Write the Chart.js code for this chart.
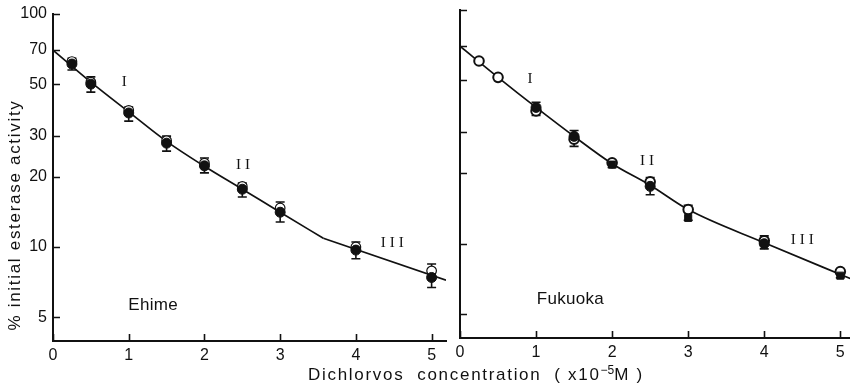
<!DOCTYPE html>
<html>
<head>
<meta charset="utf-8">
<script src="https://cdn.jsdelivr.net/npm/chart.js@4.4.1/dist/chart.umd.min.js"></script>
<style>
  body { margin: 0; background: #fff; }
  #page { position: relative; width: 850px; height: 384px; overflow: hidden; font-family: "Liberation Sans", Arial, sans-serif; color: #111; }
  #boxL { position: absolute; left: 0; top: 0; width: 452px; height: 384px; }
  #boxR { position: absolute; left: 452px; top: 0; width: 405px; height: 384px; }
  .ytitle { position: absolute; left: -135px; top: 205px; width: 300px; height: 20px; line-height: 20px;
            text-align: center; transform: rotate(-90deg); font-size: 17px; letter-spacing: 1.7px; white-space: nowrap; }
  .xtitle { position: absolute; left: 276px; top: 364px; width: 400px; height: 22px; line-height: 22px;
            text-align: center; font-size: 17px; letter-spacing: 1.7px; white-space: nowrap; }
  .xtitle sup { font-size: 12px; letter-spacing: 0; vertical-align: 6px; line-height: 0; }
</style>
</head>
<body>
<div id="page">
  <div id="boxL"><canvas id="chartL"></canvas></div>
  <div id="boxR"><canvas id="chartR"></canvas></div>
  <div class="ytitle">% initial esterase activity</div>
  <div class="xtitle">Dichlorvos&nbsp; concentration&nbsp; ( x10<sup>−5</sup>M )</div>
</div>
<script>
const concX = [0.25, 0.5, 1, 1.5, 2, 2.5, 3, 4, 5];
const yTicks = [5, 10, 20, 30, 50, 70, 100];
const xTicks = [0, 1, 2, 3, 4, 5];

// Ehime
const ehimeFilled = [61, 50, 37.6, 27.9, 22.3, 17.7, 14.1, 9.7, 7.4];
const ehimeOpen   = [62.5, 51, 38.6, 28.6, 22.9, 18.2, 14.7, 10.0, 7.9];
const ehimeHigh   = [64.5, 53.7, 39.9, 29.9, 24.1, 18.8, 15.6, 10.5, 8.45];
const ehimeLow    = [57.5, 46.2, 34.7, 25.8, 20.8, 16.4, 12.8, 8.9, 6.7];
const ehimeFitX   = [0, 0.5, 1, 1.5, 2, 2.5, 3, 3.57];
const ehimeFitY   = [70, 51, 38, 28.4, 22.2, 17.7, 14.1, 10.9];
const ehimeTailX  = [3.57, 5.19];
const ehimeTailY  = [10.9, 7.2];

// Fukuoka
const fukuokaOpen   = [60.5, 51.5, 37.0, 28.0, 22.2, 18.4, 14.0, 10.3, 7.6];
const fukuokaFilled = [null, null, 38.3, 28.8, 21.8, 17.6, 12.9, 10.0, 7.3];
const fukuokaHigh   = [null, null, 40.3, 30.5, 22.7, 19.2, 14.6, 10.8, 7.75];
const fukuokaLow    = [null, null, 35.4, 26.1, 21.2, 16.2, 12.6, 9.5, 7.15];
const fukuokaFitX   = [0, 0.5, 1, 1.5, 2, 2.5, 3, 4, 5.13];
const fukuokaFitY   = [70, 51.5, 38.3, 28.8, 22, 17.8, 14, 10.1, 7.1];
const fukuokaShapes = ["circle", "circle", "circle", "circle", "rect", "circle", "rect", "circle", "rect"];

const INK = "#111";

function pontos(xs, ys) {
  return xs.map((x, i) => ({ x, y: ys[i] })).filter(p => p.y != null);
}

// error bars, inward ticks and the roman numerals / site name
function paperPlugin(cfg) {
  return {
    id: "paper",
    beforeDatasetsDraw(chart) {
      const { ctx, scales: { x, y } } = chart;
      ctx.save();
      ctx.strokeStyle = INK;
      ctx.lineWidth = 1.6;
      ctx.beginPath();
      cfg.high.forEach((hi, i) => {
        const lo = cfg.low[i];
        if (hi == null || lo == null) return;
        const px = x.getPixelForValue(concX[i]);
        const top = y.getPixelForValue(hi);
        const bot = y.getPixelForValue(lo);
        ctx.moveTo(px, top); ctx.lineTo(px, bot);
        ctx.moveTo(px - 4.5, top); ctx.lineTo(px + 4.5, top);
        ctx.moveTo(px - 4.5, bot); ctx.lineTo(px + 4.5, bot);
      });
      ctx.stroke();
      ctx.restore();
    },
    afterDraw(chart) {
      const { ctx, chartArea: a, scales: { x, y } } = chart;
      ctx.save();
      ctx.strokeStyle = INK;
      ctx.lineWidth = 1.6;
      ctx.beginPath();
      yTicks.forEach(v => {
        const py = Math.round(y.getPixelForValue(v)) + 0.5;
        ctx.moveTo(a.left, py); ctx.lineTo(a.left + 7, py);
      });
      xTicks.forEach(v => {
        const px = Math.round(x.getPixelForValue(v)) + 0.5;
        ctx.moveTo(px, a.bottom); ctx.lineTo(px, a.bottom - 7);
      });
      ctx.stroke();

      ctx.fillStyle = INK;
      ctx.textBaseline = "middle";
      cfg.notes.forEach(n => {
        ctx.font = n.font;
        const chars = n.text.split("");
        const w = chars.reduce((s, c) => s + ctx.measureText(c).width, 0) + n.gap * (chars.length - 1);
        let px = x.getPixelForValue(n.x) - w / 2;
        const py = y.getPixelForValue(n.y);
        chars.forEach(c => {
          ctx.fillText(c, px, py);
          px += ctx.measureText(c).width + n.gap;
        });
      });
      ctx.restore();
    }
  };
}

function desenhar(canvasId, cfg) {
  const datasets = cfg.fits.map(f => ({
    data: pontos(f.x, f.y),
    showLine: true,
    borderColor: INK,
    borderWidth: 1.7,
    pointRadius: 0,
    fill: false,
    cubicInterpolationMode: f.smooth ? "monotone" : "default",
    order: 3
  }));
  datasets.push({
    data: pontos(concX, cfg.open),
    showLine: false,
    pointStyle: "circle",
    pointRadius: 4.8,
    pointBackgroundColor: "#fff",
    pointBorderColor: INK,
    pointBorderWidth: cfg.openBorder,
    order: 2
  });
  datasets.push({
    data: pontos(concX, cfg.filled),
    showLine: false,
    pointStyle: cfg.shapes ? cfg.shapes.filter((s, i) => cfg.filled[i] != null) : "circle",
    pointRadius: 5,
    pointBackgroundColor: INK,
    pointBorderColor: INK,
    pointBorderWidth: 1,
    order: 1
  });

  return new Chart(document.getElementById(canvasId), {
    type: "scatter",
    data: { datasets },
    plugins: [paperPlugin(cfg)],
    options: {
      responsive: true,
      maintainAspectRatio: false,
      animation: false,
      layout: { padding: cfg.padding },
      plugins: { legend: { display: false }, tooltip: { enabled: false } },
      scales: {
        x: {
          type: "linear",
          min: 0,
          max: cfg.xMax,
          grid: { display: false, drawTicks: false },
          border: { display: true, color: INK, width: 2 },
          afterBuildTicks: ax => { ax.ticks = xTicks.map(v => ({ value: v })); },
          afterFit: ax => {
            ax.height = cfg.xHeight;
            ax.paddingLeft = 0;
            ax.paddingRight = 0;
          },
          ticks: {
            padding: 5,
            color: INK,
            font: { family: "Liberation Sans", size: 16 },
            callback: v => String(v)
          }
        },
        y: {
          type: "logarithmic",
          min: 3.95,
          max: 100,
          grid: { display: false, drawTicks: false },
          border: { display: true, color: INK, width: 2 },
          afterBuildTicks: ax => { ax.ticks = yTicks.map(v => ({ value: v })); },
          afterFit: ax => {
            ax.width = cfg.yWidth;
            ax.paddingTop = 0;
            ax.paddingBottom = 0;
          },
          ticks: {
            display: cfg.yLabels,
            padding: 6,
            color: INK,
            font: { family: "Liberation Sans", size: 16 },
            callback: v => String(v)
          }
        }
      }
    }
  });
}

const romanFont = "15px 'Liberation Serif', serif";
const siteFont = "17px 'Liberation Sans', Arial, sans-serif";

desenhar("chartL", {
  fits: [{ x: ehimeFitX, y: ehimeFitY, smooth: true }, { x: ehimeTailX, y: ehimeTailY, smooth: false }],
  open: ehimeOpen,
  filled: ehimeFilled,
  openBorder: 1.2,
  high: ehimeHigh,
  low: ehimeLow,
  xMax: 5.19,
  padding: { top: 14, right: 5, left: 0, bottom: 0 },
  xHeight: 43,
  yWidth: 53,
  yLabels: true,
  notes: [
    { text: "I", x: 0.94, y: 51, font: romanFont, gap: 0 },
    { text: "II", x: 2.51, y: 22.5, font: romanFont, gap: 4 },
    { text: "III", x: 4.48, y: 10.4, font: romanFont, gap: 4 },
    { text: "Ehime", x: 1.32, y: 5.64, font: siteFont, gap: 0.3 }
  ]
});

desenhar("chartR", {
  fits: [{ x: fukuokaFitX, y: fukuokaFitY, smooth: true }],
  open: fukuokaOpen,
  filled: fukuokaFilled,
  shapes: fukuokaShapes,
  openBorder: 2,
  high: fukuokaHigh,
  low: fukuokaLow,
  xMax: 5.13,
  padding: { top: 10, right: 0, left: 0, bottom: 0 },
  xHeight: 46,
  yWidth: 8,
  yLabels: false,
  notes: [
    { text: "I", x: 0.92, y: 50.6, font: romanFont, gap: 0 },
    { text: "II", x: 2.46, y: 22.5, font: romanFont, gap: 4 },
    { text: "III", x: 4.5, y: 10.4, font: romanFont, gap: 4 },
    { text: "Fukuoka", x: 1.45, y: 5.8, font: siteFont, gap: 0.3 }
  ]
});
</script>
</body>
</html>
